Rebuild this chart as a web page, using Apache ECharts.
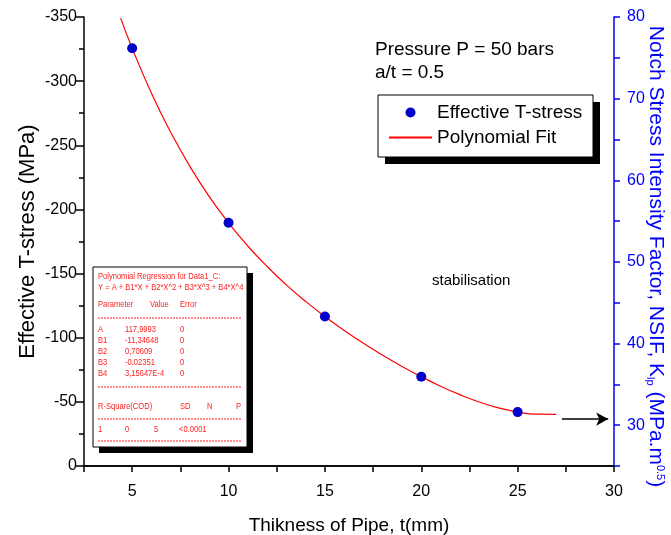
<!DOCTYPE html>
<html>
<head>
<meta charset="utf-8">
<script src="https://cdn.jsdelivr.net/npm/echarts@6/dist/echarts.min.js"></script>
<style>
  html, body { margin: 0; padding: 0; background: #fff; }
  #chart { width: 671px; height: 535px; }
</style>
</head>
<body>
<div id="chart"></div>
<script>
// measured points (thickness mm, effective T-stress MPa)
const thickness = [5, 10, 15, 20, 25];
const tStress = [-325.7, -189.6, -116.5, -69.6, -42.0];

// fit curve
const fitX = [4.4, 5, 6, 7, 8, 9, 10, 11, 12, 13, 14, 15, 16, 17, 18, 19, 20, 21, 22, 23, 24, 25, 26, 27];
const fitY = [-349.1, -325.7, -290.6, -260.1, -233.4, -210.0, -189.6, -171.5, -155.5, -141.2, -128.3, -116.5,
  -105.7, -95.6, -86.3, -77.6, -69.6, -62.2, -55.6, -49.9, -45.3, -42.0, -40.4, -40.3];

// arrow pointing to the right axis
const arrowFrom = [27.3, -36.6];
const arrowTo = [29.7, -36.6];

// regression report rows
const regTitle = ["Polynomial Regression for Data1_C:", "Y = A + B1*X + B2*X^2 + B3*X^3 + B4*X^4"];
const regParams = [
  ["A", "117,9993", "0"],
  ["B1", "-11,34648", "0"],
  ["B2", "0,70609", "0"],
  ["B3", "-0,02351", "0"],
  ["B4", "3,15647E-4", "0"],
];

const FONT = "'Liberation Sans', Arial, sans-serif";
const RED = "#ff2020";

let myChart = echarts.init(document.getElementById("chart"));

// inset box with the regression table
const bx = 93, by = 267, bw = 154, bh = 180;
let inset = [
  { type: "rect", shape: { x: bx + 6, y: by + 6, width: bw, height: bh }, style: { fill: "#000" } },
  { type: "rect", shape: { x: bx, y: by, width: bw, height: bh }, style: { fill: "#fff", stroke: "#000", lineWidth: 1 } },
];
function txt(x, y, s) {
  inset.push({
    type: "text", x: x, y: y, scaleX: 0.84,
    style: { text: s, fill: RED, font: "9px " + FONT, verticalAlign: "middle" },
  });
}
function dash(y) {
  inset.push({ type: "line", shape: { x1: bx + 5, y1: y, x2: bx + bw - 5, y2: y }, style: { stroke: RED, lineWidth: 1, lineDash: [2, 1] } });
}
txt(98, 277, regTitle[0]);
txt(98, 288, regTitle[1]);
txt(98, 305, "Parameter");
txt(150, 305, "Value");
txt(180, 305, "Error");
dash(318);
regParams.forEach((r, i) => {
  let y = 330 + i * 11;
  txt(98, y, r[0]);
  txt(125, y, r[1]);
  txt(180, y, r[2]);
});
dash(387);
txt(98, 407, "R-Square(COD)");
txt(180, 407, "SD");
txt(207, 407, "N");
txt(236, 407, "P");
dash(419);
txt(98, 430, "1");
txt(125, 430, "0");
txt(154, 430, "5");
txt(179, 430, "<0.0001");
dash(441);

let options = {
  animation: false,
  textStyle: { fontFamily: FONT },
  grid: { left: 84, right: 57, top: 17, bottom: 69, containLabel: false, outerBoundsMode: "none" },
  legend: {
    orient: "vertical",
    left: 388,
    top: 103,
    padding: 0,
    itemGap: 6,
    itemWidth: 43,
    itemHeight: 10,
    textStyle: { fontSize: 19, color: "#000", fontFamily: FONT },
    data: [
      { name: "Effective T-stress", icon: "circle" },
      { name: "Polynomial Fit", itemStyle: { color: "rgba(0,0,0,0)", borderWidth: 0 } },
    ],
  },
  xAxis: [
    {
      type: "value",
      min: 2.5,
      max: 30,
      interval: 2.5,
      name: "Thikness of Pipe, t(mm)",
      nameLocation: "middle",
      nameGap: 50,
      nameMoveOverlap: false,
      nameTextStyle: { fontSize: 19, color: "#000" },
      axisLine: { show: true, onZero: false, lineStyle: { color: "#000", width: 1.5 } },
      axisTick: { show: true, length: 6, lineStyle: { color: "#000", width: 1.5 } },
      axisLabel: {
        fontSize: 16,
        color: "#000",
        margin: 18,
        formatter: (v) => (v % 5 === 0 ? v : ""),
      },
      splitLine: { show: false },
    },
    {
      type: "value",
      position: "top",
      min: 2.5,
      max: 30,
      interval: 2.5,
      axisLine: { show: true, lineStyle: { color: "#000", width: 1.5 } },
      axisTick: { show: true, inside: true, length: 6, lineStyle: { color: "#000", width: 1.5 } },
      axisLabel: { show: false },
      splitLine: { show: false },
    },
  ],
  yAxis: [
    {
      type: "value",
      min: -350,
      max: 0,
      interval: 50,
      inverse: true,
      name: "Effective T-stress (MPa)",
      nameLocation: "middle",
      nameGap: 45,
      nameMoveOverlap: false,
      nameTextStyle: { fontSize: 22, color: "#000" },
      axisLine: { show: true, onZero: false, lineStyle: { color: "#000", width: 1.5 } },
      axisTick: { show: true, length: 8, lineStyle: { color: "#000", width: 1.5 } },
      minorTick: { show: true, splitNumber: 2, length: 5, lineStyle: { color: "#000", width: 1.5 } },
      axisLabel: { fontSize: 16, color: "#000", margin: 7 },
      splitLine: { show: false },
    },
    {
      type: "value",
      position: "right",
      min: 25,
      max: 80,
      interval: 5,
      name: "{a|Notch Stress Intensity Factor, NSIF, K}{b|lp}{a| (MPa.m}{c|0.5}{a|)}",
      nameLocation: "middle",
      nameRotate: -90,
      nameGap: 31,
      nameMoveOverlap: false,
      nameTextStyle: {
        color: "#0000ff",
        padding: [0, 0, 0, 30],
        rich: {
          a: { fontSize: 21, color: "#0000ff", fontFamily: FONT },
          b: { fontSize: 11, color: "#0000ff", fontFamily: FONT, verticalAlign: "bottom", padding: [9, 0, 0, 0] },
          c: { fontSize: 11, color: "#0000ff", fontFamily: FONT, verticalAlign: "top", padding: [0, 0, 9, 0] },
        },
      },
      axisLine: { show: true, lineStyle: { color: "#0000ff", width: 1.5 } },
      axisTick: { show: true, length: 6, lineStyle: { color: "#0000ff", width: 1.5 } },
      axisLabel: {
        fontSize: 16,
        color: "#0000ff",
        margin: 13,
        formatter: (v) => (v % 10 === 0 ? v : ""),
      },
      splitLine: { show: false },
    },
  ],
  series: [
    {
      name: "Polynomial Fit",
      type: "line",
      data: fitX.map((x, i) => [x, fitY[i]]),
      smooth: true,
      symbol: "none",
      clip: true,
      lineStyle: { color: "#ff0000", width: 1.2 },
      itemStyle: { color: "#ff0000" },
      z: 2,
    },
    {
      name: "Effective T-stress",
      type: "scatter",
      data: thickness.map((x, i) => [x, tStress[i]]),
      symbolSize: 10,
      itemStyle: { color: "#0000c8", opacity: 1 },
      z: 3,
      markLine: {
        silent: true,
        symbol: ["none", "arrow"],
        symbolSize: [10, 12],
        label: { show: false },
        lineStyle: { color: "#000", width: 1.5, type: "solid" },
        data: [[{ coord: arrowFrom }, { coord: arrowTo }]],
      },
    },
  ],
  graphic: [
    { type: "text", x: 375, y: 50, style: { text: "Pressure P = 50 bars", font: "19px " + FONT, fill: "#000", verticalAlign: "middle" } },
    { type: "text", x: 375, y: 73, style: { text: "a/t = 0.5", font: "19px " + FONT, fill: "#000", verticalAlign: "middle" } },
    { type: "text", x: 432, y: 281, style: { text: "stabilisation", font: "15px " + FONT, fill: "#000", verticalAlign: "middle" } },
    { type: "rect", shape: { x: 385, y: 102, width: 215, height: 62 }, style: { fill: "#000" } },
    { type: "rect", shape: { x: 378, y: 95, width: 215, height: 62 }, style: { fill: "#fff", stroke: "#000", lineWidth: 1 } },
    { type: "group", children: inset },
  ],
};

myChart.setOption(options);
</script>
</body>
</html>
